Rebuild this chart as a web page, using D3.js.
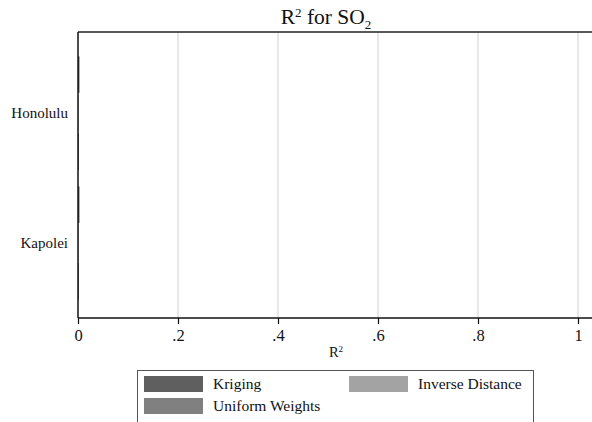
<!DOCTYPE html>
<meta charset="utf-8">
<script src="https://d3js.org/d3.v7.min.js"></script>
<style>
  body { margin: 0; background: #fff; }
  text { font-family: "Liberation Serif", "DejaVu Serif", serif; fill: #111; }
</style>
<div id="chart"></div>
<script>
// Data
var sites = ["Honolulu", "Kapolei"];
var methods = ["Kriging", "Inverse Distance", "Uniform Weights"];
var kriging = [0.003, 0.003];
var inverseDistance = [0.001, 0.001];
var uniformWeights = [0.002, 0.002];
var xTicks = [0, 0.2, 0.4, 0.6, 0.8, 1];
var xTickLabels = ["0", ".2", ".4", ".6", ".8", "1"];

var colors = {"Kriging": "#5f5f5f", "Inverse Distance": "#a3a3a3", "Uniform Weights": "#808080"};

var rows = sites.map(function(s, i) {
  return {site: s, values: [
    {method: "Kriging", value: kriging[i]},
    {method: "Inverse Distance", value: inverseDistance[i]},
    {method: "Uniform Weights", value: uniformWeights[i]}
  ]};
});

var W = 592, H = 422;
var plot = {left: 78, top: 32, right: 592, bottom: 318};

var svg = d3.select("#chart").append("svg")
  .attr("width", W).attr("height", H);

var x = d3.scaleLinear().domain([0, 1]).range([plot.left, 578]);

var y = d3.scaleBand().domain(sites)
  .range([plot.top + 3, plot.bottom + 3])
  .paddingInner(0.1).paddingOuter(0.15);

var yInner = d3.scaleBand().domain(methods)
  .range([0, y.bandwidth()]).padding(0.05);

// Gridlines
svg.append("g").selectAll("line")
  .data(xTicks.filter(function(d) { return d > 0; }))
  .join("line")
    .attr("x1", function(d) { return x(d); })
    .attr("x2", function(d) { return x(d); })
    .attr("y1", plot.top)
    .attr("y2", plot.bottom)
    .attr("stroke", "#dedede")
    .attr("stroke-width", 1.5);

// Top border
svg.append("line")
  .attr("x1", plot.left).attr("x2", plot.right)
  .attr("y1", plot.top).attr("y2", plot.top)
  .attr("stroke", "#222").attr("stroke-width", 1.3);

// Bars
var groups = svg.append("g").selectAll("g")
  .data(rows)
  .join("g")
    .attr("transform", function(d) { return "translate(0," + y(d.site) + ")"; });

groups.selectAll("rect")
  .data(function(d) { return d.values; })
  .join("rect")
    .attr("x", x(0))
    .attr("y", function(d) { return yInner(d.method); })
    .attr("width", function(d) { return x(d.value) - x(0); })
    .attr("height", yInner.bandwidth())
    .attr("fill", function(d) { return colors[d.method]; });

// X axis
var xAxis = svg.append("g")
  .attr("transform", "translate(0," + plot.bottom + ")")
  .call(d3.axisBottom(x).tickValues(xTicks)
    .tickFormat(function(d, i) { return xTickLabels[i]; })
    .tickSize(6).tickPadding(5));
xAxis.select(".domain").remove();
xAxis.append("line")
  .attr("x1", plot.left).attr("x2", plot.right)
  .attr("stroke", "#111").attr("stroke-width", 1.5);
xAxis.selectAll(".tick line").attr("stroke", "#111").attr("stroke-width", 1.2);
xAxis.selectAll(".tick text")
  .style("font-family", "Liberation Serif, serif")
  .style("font-size", "16.5px").attr("fill", "#111");

// Y axis
var yAxis = svg.append("g")
  .attr("transform", "translate(" + plot.left + ",0)")
  .call(d3.axisLeft(y).tickSize(0).tickPadding(10));
yAxis.select(".domain").attr("stroke", "#111").attr("stroke-width", 1.5)
  .attr("d", "M0," + plot.top + "V" + plot.bottom);
yAxis.selectAll(".tick text")
  .style("font-family", "Liberation Serif, serif")
  .style("font-size", "15px").attr("fill", "#111");

// Title
var title = svg.append("text")
  .attr("x", 326).attr("y", 24)
  .attr("text-anchor", "middle")
  .style("font-size", "21.5px");
title.append("tspan").text("R");
title.append("tspan").text("2").attr("dy", -7).style("font-size", "13px");
title.append("tspan").text(" for SO").attr("dy", 7);
title.append("tspan").text("2").attr("dy", 5).style("font-size", "13px");

// X axis title
var xt = svg.append("text")
  .attr("x", 336).attr("y", 357)
  .attr("text-anchor", "middle")
  .style("font-size", "14.5px");
xt.append("tspan").text("R");
xt.append("tspan").text("2").attr("dy", -5).style("font-size", "9px");

// Legend
var legend = svg.append("g");
legend.append("rect")
  .attr("x", 137.5).attr("y", 370.5)
  .attr("width", 396).attr("height", 58)
  .attr("fill", "#fff").attr("stroke", "#555").attr("stroke-width", 1);

var legendPos = {
  "Kriging": [144, 376],
  "Inverse Distance": [349, 376],
  "Uniform Weights": [144, 398]
};
methods.forEach(function(m) {
  var p = legendPos[m];
  legend.append("rect")
    .attr("x", p[0]).attr("y", p[1])
    .attr("width", 59).attr("height", 16)
    .attr("fill", colors[m]);
  legend.append("text")
    .attr("x", p[0] + 69).attr("y", p[1] + 13)
    .style("font-size", "15.5px")
    .text(m);
});
</script>
